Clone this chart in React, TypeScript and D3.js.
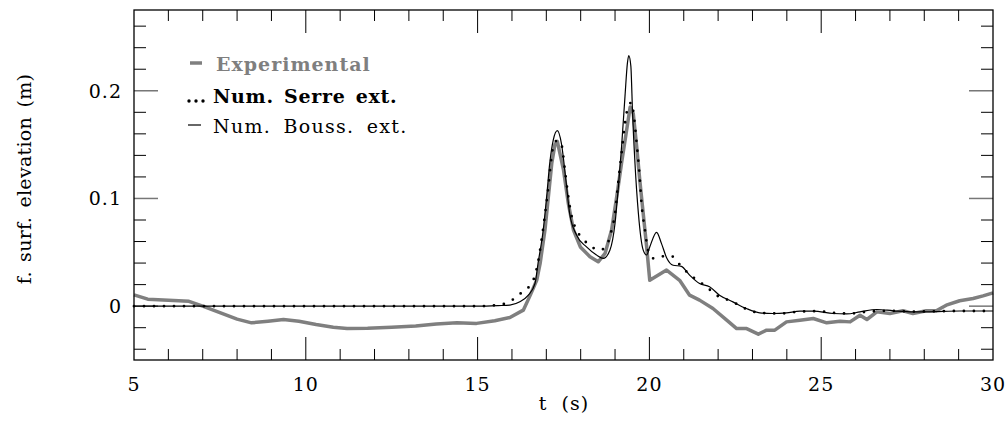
import React, { useEffect, useRef } from 'react';
import * as d3 from 'd3';

// Experimental (gauge record)
const expT = [5.0, 5.4, 6.0, 6.6, 7.0, 7.5, 8.0, 8.42, 8.9, 9.35, 9.8, 10.3, 10.8, 11.2, 11.8, 12.5, 13.2, 13.8, 14.4, 14.97, 15.5, 15.94, 16.33, 16.53, 16.72, 16.82, 16.96, 17.06, 17.16, 17.25, 17.32, 17.5, 17.64, 17.79, 17.99, 18.27, 18.51, 18.71, 18.9, 19.05, 19.19, 19.34, 19.44, 19.53, 19.63, 19.72, 19.82, 19.92, 20.01, 20.5, 20.88, 21.17, 21.46, 21.85, 22.25, 22.54, 22.83, 23.17, 23.41, 23.65, 23.99, 24.38, 24.77, 25.16, 25.55, 25.84, 26.13, 26.33, 26.62, 27.0, 27.38, 27.67, 28.06, 28.35, 28.64, 29.03, 29.42, 29.71, 30.0];
const expV = [0.0105, 0.0065, 0.0055, 0.0045, 0.0, -0.006, -0.012, -0.0155, -0.014, -0.0125, -0.014, -0.017, -0.0195, -0.0208, -0.0205, -0.0195, -0.0185, -0.0165, -0.0155, -0.016, -0.0135, -0.0105, -0.0037, 0.01, 0.024, 0.0397, 0.0707, 0.1017, 0.133, 0.15, 0.153, 0.1265, 0.0955, 0.0707, 0.055, 0.0459, 0.0412, 0.049, 0.0707, 0.1017, 0.133, 0.164, 0.185, 0.179, 0.148, 0.117, 0.086, 0.055, 0.024, 0.0335, 0.024, 0.0102, 0.0056, -0.0022, -0.013, -0.0208, -0.0208, -0.026, -0.0223, -0.0223, -0.0146, -0.013, -0.0115, -0.0155, -0.014, -0.0146, -0.0084, -0.0124, -0.0053, -0.0068, -0.0043, -0.0068, -0.0043, -0.0043, 0.0009, 0.005, 0.0071, 0.0096, 0.0124];

// Num. Serre ext. (dotted)
const serreT = [5, 10, 15, 15.56, 15.85, 16.14, 16.38, 16.53, 16.62, 16.76, 16.86, 16.96, 17.06, 17.13, 17.2, 17.32, 17.44, 17.54, 17.64, 17.74, 17.83, 18.08, 18.32, 18.56, 18.76, 18.9, 19.0, 19.09, 19.19, 19.29, 19.38, 19.48, 19.55, 19.63, 19.71, 19.77, 19.87, 19.96, 20.11, 20.3, 20.64, 20.84, 21.03, 21.27, 21.66, 21.95, 22.43, 22.72, 23.21, 23.8, 24.38, 24.87, 25.35, 25.84, 26.4, 27.0, 27.6, 28.2, 29.0, 30];
const serreV = [0, 0, 0, 0.001, 0.003, 0.0087, 0.0155, 0.019, 0.024, 0.041, 0.061, 0.0847, 0.111, 0.133, 0.148, 0.154, 0.15, 0.1265, 0.1017, 0.083, 0.074, 0.062, 0.055, 0.052, 0.0567, 0.0707, 0.086, 0.114, 0.142, 0.17, 0.185, 0.189, 0.176, 0.151, 0.123, 0.0955, 0.0707, 0.052, 0.0444, 0.046, 0.0465, 0.04, 0.0335, 0.027, 0.018, 0.0102, 0.004, -0.0012, -0.0062, -0.0068, -0.005, -0.0047, -0.0062, -0.0068, -0.005, -0.0043, -0.005, -0.0048, -0.0045, -0.0045];

// Num. Bouss. ext. (thin solid)
const boussT = [5, 10, 15, 15.6, 15.94, 16.23, 16.47, 16.67, 16.76, 16.91, 17.01, 17.1, 17.2, 17.32, 17.44, 17.57, 17.68, 17.88, 18.17, 18.46, 18.66, 18.85, 19.0, 19.09, 19.19, 19.29, 19.36, 19.4, 19.46, 19.51, 19.58, 19.68, 19.82, 19.92, 20.01, 20.21, 20.35, 20.5, 20.69, 20.93, 21.17, 21.46, 21.75, 22.04, 22.43, 22.82, 23.21, 23.6, 23.99, 24.38, 24.77, 25.35, 25.74, 26.13, 26.62, 27.1, 27.67, 28.06, 29.03, 30];
const boussV = [0, 0, 0, 0.0005, 0.001, 0.004, 0.01, 0.021, 0.04, 0.0707, 0.1017, 0.1328, 0.154, 0.163, 0.151, 0.117, 0.086, 0.066, 0.055, 0.0475, 0.0444, 0.052, 0.077, 0.108, 0.148, 0.195, 0.2257, 0.2326, 0.223, 0.179, 0.133, 0.086, 0.052, 0.0475, 0.055, 0.0686, 0.0583, 0.045, 0.038, 0.037, 0.0288, 0.021, 0.018, 0.0102, 0.004, -0.0022, -0.0062, -0.0068, -0.0062, -0.0047, -0.0047, -0.0068, -0.0072, -0.0053, -0.0031, -0.0043, -0.0053, -0.0053, -0.0045, -0.0045];

const xMajor = [5, 10, 15, 20, 25, 30];
const yMajor = [0, 0.1, 0.2];
const yMajorLabels = ['0', '0.1', '0.2'];

const legendItems = [
  { label: 'Experimental', kind: 'exp' },
  { label: 'Num. Serre ext.', kind: 'serre' },
  { label: 'Num. Bouss. ext.', kind: 'bouss' },
];

const FONT = '"DejaVu Serif", serif';

const App = () => {
  const ref = useRef(null);

  useEffect(() => {
    if (!ref.current) return;
    d3.select(ref.current).selectAll('*').remove();

    const width = 1008;
    const height = 422;
    const left = 134, right = 993, top = 10, bottom = 360;

    const svg = d3.select(ref.current)
      .append('svg')
      .attr('width', width)
      .attr('height', height)
      .style('position', 'absolute')
      .style('top', 0)
      .style('left', 0)
      .style('background', '#fff');

    const x = d3.scaleLinear().domain([5, 30]).range([left, right]);
    const y = d3.scaleLinear().domain([-0.05, 0.275]).range([bottom, top]);

    // ticks (minor: 1 s / 0.02 m, major: 5 s / 0.1 m)
    const g = svg.append('g');
    d3.range(6, 30).filter(v => v % 5 !== 0).forEach(v => {
      g.append('line').attr('x1', x(v)).attr('x2', x(v)).attr('y1', bottom).attr('y2', bottom - 11).attr('stroke', '#000');
      g.append('line').attr('x1', x(v)).attr('x2', x(v)).attr('y1', top).attr('y2', top + 11).attr('stroke', '#000');
    });
    xMajor.slice(1, -1).forEach(v => {
      g.append('line').attr('x1', x(v)).attr('x2', x(v)).attr('y1', bottom).attr('y2', bottom - 23).attr('stroke', '#000');
      g.append('line').attr('x1', x(v)).attr('x2', x(v)).attr('y1', top).attr('y2', top + 23).attr('stroke', '#000');
    });
    d3.range(-2, 14).filter(k => k % 5 !== 0).map(k => k * 0.02).forEach(v => {
      g.append('line').attr('x1', left).attr('x2', left + 12).attr('y1', y(v)).attr('y2', y(v)).attr('stroke', '#000');
      g.append('line').attr('x1', right).attr('x2', right - 12).attr('y1', y(v)).attr('y2', y(v)).attr('stroke', '#000');
    });
    yMajor.forEach(v => {
      g.append('line').attr('x1', left).attr('x2', left + 24).attr('y1', y(v)).attr('y2', y(v)).attr('stroke', '#777').attr('stroke-width', 1.5);
      g.append('line').attr('x1', right).attr('x2', right - 24).attr('y1', y(v)).attr('y2', y(v)).attr('stroke', '#777').attr('stroke-width', 1.5);
    });

    // tick labels
    xMajor.forEach(v => {
      svg.append('text').attr('x', x(v)).attr('y', 391).attr('text-anchor', 'middle')
        .style('font-family', FONT).style('font-size', '19px').style('letter-spacing', '1px').text(String(v));
    });
    yMajor.forEach((v, i) => {
      svg.append('text').attr('x', 122).attr('y', y(v)).attr('dy', '0.36em').attr('text-anchor', 'end')
        .style('font-family', FONT).style('font-size', '19px').style('letter-spacing', '1px').text(yMajorLabels[i]);
    });

    // axis titles
    svg.append('text').attr('x', 564).attr('y', 410).attr('text-anchor', 'middle')
      .style('font-family', FONT).style('font-size', '19px').style('letter-spacing', '1px').style('word-spacing', '7px')
      .text('t (s)');
    svg.append('text').attr('transform', `translate(31,${(top + bottom) / 2 - 6}) rotate(-90)`)
      .attr('text-anchor', 'middle')
      .style('font-family', FONT).style('font-size', '19px').style('letter-spacing', '0.3px').style('word-spacing', '3px')
      .text('f. surf. elevation (m)');

    // curves
    const plot = svg.append('g');
    const linear = d3.line().x(d => x(d[0])).y(d => y(d[1]));
    const smooth = d3.line().x(d => x(d[0])).y(d => y(d[1])).curve(d3.curveMonotoneX);

    plot.append('path').attr('d', linear(expT.map((t, i) => [t, expV[i]])))
      .attr('fill', 'none').attr('stroke', '#7f7f7f').attr('stroke-width', 3.5).attr('stroke-linejoin', 'round');
    plot.append('path').attr('d', smooth(boussT.map((t, i) => [t, boussV[i]])))
      .attr('fill', 'none').attr('stroke', '#000').attr('stroke-width', 1.2);
    plot.append('path').attr('d', smooth(serreT.map((t, i) => [t, serreV[i]])))
      .attr('fill', 'none').attr('stroke', '#000').attr('stroke-width', 2.8)
      .attr('stroke-linecap', 'round').attr('stroke-dasharray', '0 10');

    // frame
    svg.append('rect').attr('x', left).attr('y', top).attr('width', right - left).attr('height', bottom - top)
      .attr('fill', 'none').attr('stroke', '#000').attr('stroke-width', 1.3);

    // legend
    const lg = svg.append('g');
    const baselines = [71, 103, 133];
    const spacing = { exp: ['1px', '0px'], serre: ['0.7px', '3px'], bouss: ['1.3px', '5px'] };
    legendItems.forEach((item, i) => {
      const by = baselines[i];
      if (item.kind === 'exp') {
        lg.append('line').attr('x1', 190).attr('x2', 202).attr('y1', by - 8).attr('y2', by - 8)
          .attr('stroke', '#7f7f7f').attr('stroke-width', 3.5);
      } else if (item.kind === 'serre') {
        [189, 196, 203].forEach(cx => lg.append('circle').attr('cx', cx).attr('cy', by - 2).attr('r', 1.7).attr('fill', '#000'));
      } else {
        lg.append('line').attr('x1', 188).attr('x2', 201).attr('y1', by - 8).attr('y2', by - 8)
          .attr('stroke', '#000').attr('stroke-width', 1.2);
      }
      lg.append('text').attr('x', item.kind === 'exp' ? 216 : 213).attr('y', by)
        .style('font-family', FONT).style('font-size', '19px')
        .style('font-weight', item.kind === 'bouss' ? 'normal' : 'bold')
        .style('letter-spacing', spacing[item.kind][0]).style('word-spacing', spacing[item.kind][1])
        .attr('fill', item.kind === 'exp' ? '#7f7f7f' : '#000')
        .text(item.label);
    });
  }, []);

  return <div ref={ref} style={{ position: 'absolute', top: 0, left: 0, width: 1008, height: 422 }} />;
};

export default App;
